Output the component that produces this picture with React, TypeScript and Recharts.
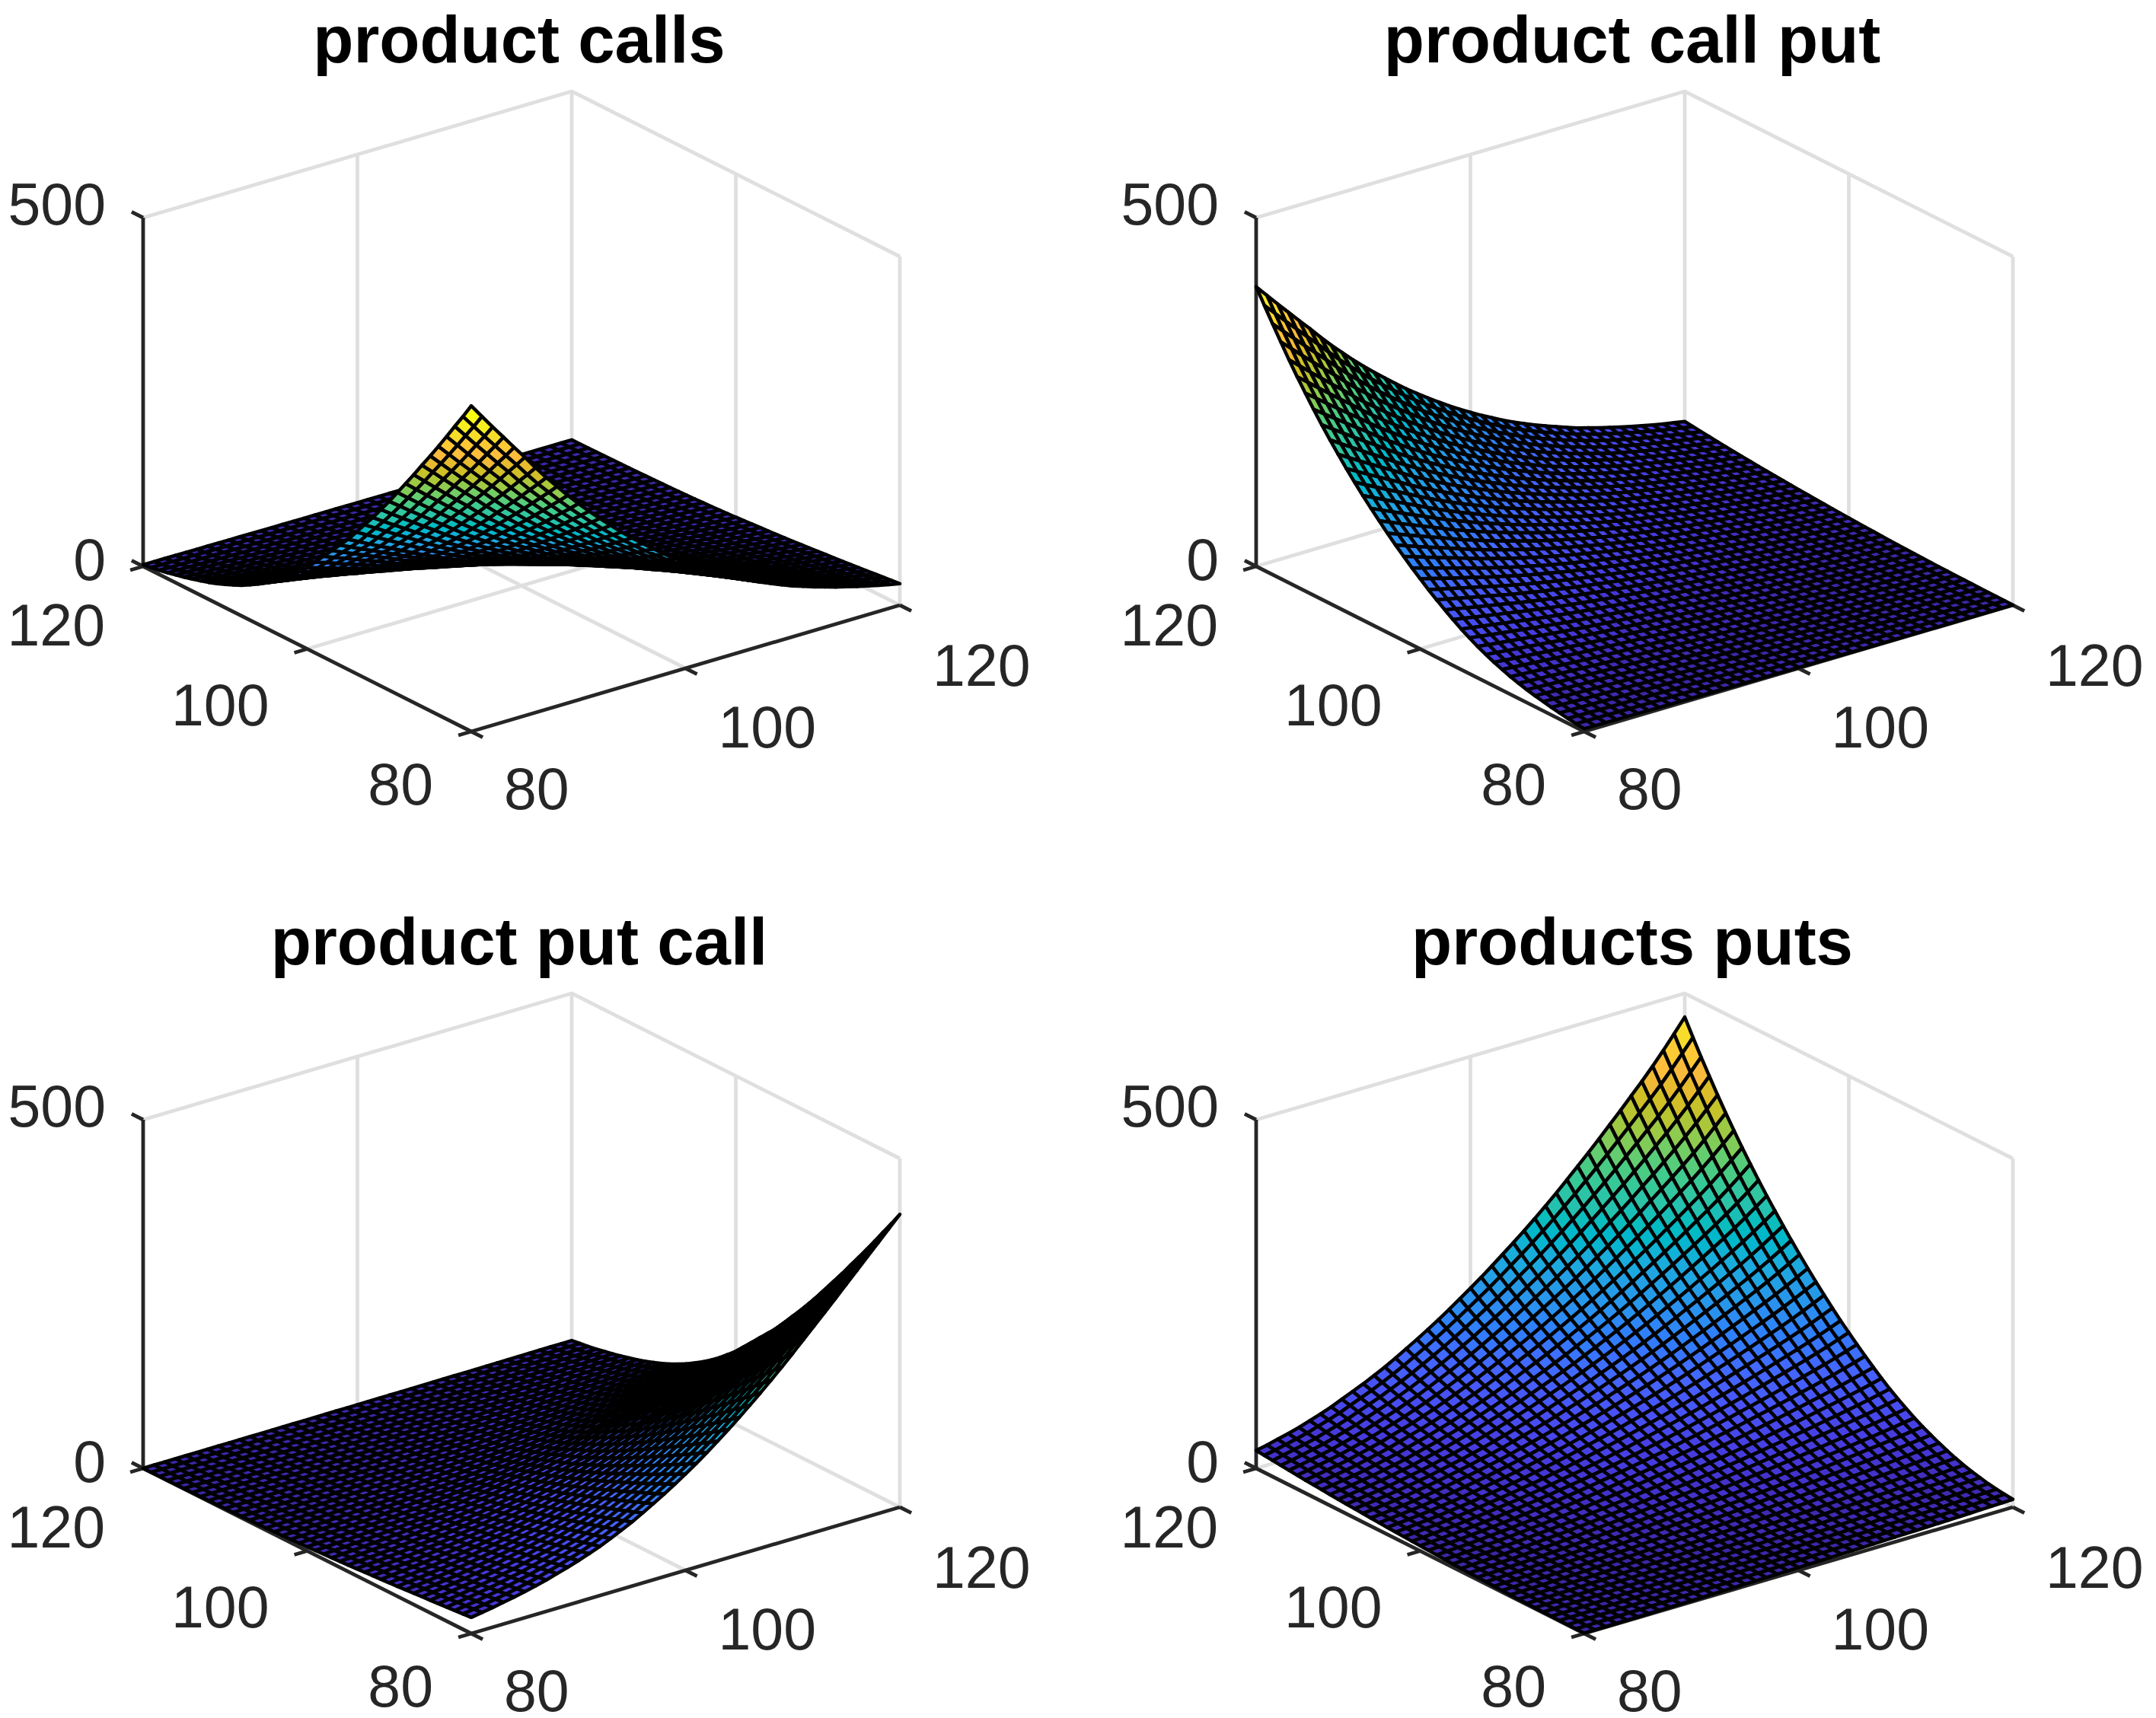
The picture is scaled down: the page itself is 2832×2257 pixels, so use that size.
import React from 'react';
import { ScatterChart, Scatter, XAxis, YAxis } from 'recharts';

// Grid of strikes shared by both horizontal axes
const strikes: number[] = Array.from({ length: 41 }, (_, k) => 80 + k);

// Profiles, one value per strike 80..120 (fraction of the panel's peak)
const callShapeX = [1.0,.958,.916,.875,.834,.794,.752,.712,.675,.638,.603,.57,.538,.507,.477,.449,.422,.396,.371,.347,.325,.303,.283,.263,.245,.228,.212,.197,.183,.169,.156,.145,.134,.124,.114,.105,.096,.088,.08,.073,.066];
const callShapeY = [1.0,.955,.912,.868,.825,.783,.742,.70,.66,.62,.58,.542,.505,.47,.435,.40,.37,.34,.31,.28,.25,.225,.20,.178,.158,.14,.123,.108,.094,.082,.071,.061,.052,.044,.037,.03,.024,.018,.013,.009,.005];
const putShapeYCallPanel = [.010,.013,.017,.022,.027,.033,.039,.046,.054,.063,.074,.085,.098,.112,.128,.145,.164,.184,.205,.227,.251,.275,.301,.327,.355,.384,.414,.445,.478,.512,.548,.585,.624,.665,.708,.752,.798,.847,.897,.948,1.0];
const putShapeXCallPanel = [.055,.061,.067,.074,.081,.089,.098,.107,.118,.129,.141,.154,.168,.184,.201,.219,.239,.260,.282,.305,.329,.354,.381,.409,.438,.468,.499,.531,.564,.598,.633,.669,.705,.741,.778,.815,.852,.889,.926,.963,1.0];
const putShapeX = [.055,.062,.070,.078,.087,.098,.109,.121,.135,.149,.163,.179,.195,.213,.232,.251,.271,.292,.314,.337,.360,.384,.409,.435,.461,.488,.516,.545,.575,.606,.638,.670,.703,.737,.771,.806,.841,.878,.917,.958,1.0];
const putShapeY = [.024,.027,.030,.034,.040,.046,.053,.062,.072,.083,.095,.108,.122,.138,.155,.173,.193,.214,.236,.259,.283,.307,.333,.360,.388,.417,.447,.478,.510,.543,.577,.612,.649,.687,.727,.768,.811,.856,.902,.950,1.0];

const panelTitles = ['product calls', 'product call put', 'product put call', 'products puts'];
const panelPeaks = [467, 401, 420, 466];
const panelShapes = [
  [callShapeX, callShapeY],
  [callShapeX, putShapeYCallPanel],
  [putShapeXCallPanel, callShapeY],
  [putShapeX, putShapeY],
];

const xyTicks = [80, 100, 120];
const zTicks = [0, 500];

const parula: number[][] = [
[.2422,.1504,.6603],[.2504,.1650,.7076],[.2578,.1818,.7511],[.2647,.1978,.7952],[.2706,.2147,.8364],[.2751,.2342,.8710],[.2783,.2559,.8991],[.2803,.2782,.9221],[.2813,.3006,.9414],[.2810,.3228,.9579],[.2795,.3447,.9717],[.2760,.3667,.9829],[.2699,.3892,.9906],[.2602,.4123,.9952],[.2440,.4358,.9988],[.2206,.4603,.9973],[.1963,.4847,.9892],[.1834,.5074,.9798],[.1786,.5289,.9682],[.1764,.5499,.9520],[.1687,.5703,.9359],[.1540,.5902,.9218],[.1460,.6091,.9079],[.1380,.6276,.8973],[.1248,.6459,.8883],[.1113,.6635,.8763],[.0952,.6798,.8598],[.0689,.6948,.8394],[.0297,.7082,.8163],[.0036,.7203,.7917],[.0067,.7312,.7660],[.0433,.7411,.7394],[.0964,.7500,.7120],[.1408,.7584,.6842],[.1717,.7670,.6554],[.1938,.7758,.6251],[.2161,.7843,.5923],[.2470,.7918,.5567],[.2906,.7973,.5188],[.3406,.8008,.4789],[.3909,.8029,.4354],[.4456,.8024,.3909],[.5044,.7993,.3480],[.5616,.7942,.3045],[.6174,.7876,.2612],[.6720,.7793,.2227],[.7242,.7698,.1910],[.7738,.7598,.1646],[.8203,.7498,.1535],[.8634,.7406,.1596],[.9035,.7330,.1774],[.9393,.7288,.2100],[.9728,.7298,.2394],[.9956,.7434,.2371],[.9970,.7659,.2199],[.9952,.7893,.2028],[.9892,.8136,.1885],[.9786,.8386,.1766],[.9676,.8639,.1643],[.9610,.8890,.1537],[.9597,.9135,.1423],[.9628,.9373,.1265],[.9691,.9606,.1064],[.9769,.9839,.0805]];

// Layout
const PANEL_W = 1370;
const PANEL_H = 1110;
const OFFSET_X = 1462;
const OFFSET_Y = 1185;
const FRONT = { x: 619, y: 961 };
const EX = { x: 563, y: -166 };
const EY = { x: -431, y: -217 };
const EZ = 458;
const GRAY = '#dfdfdf';
const DARK = '#262626';
const FONT = '"Liberation Sans", Arial, sans-serif';
const TICK_SIZE = 77;

const project = (x: number, y: number, z: number) => {
  const tx = (x - 80) / 40;
  const ty = (y - 80) / 40;
  return {
    x: FRONT.x + tx * EX.x + ty * EY.x,
    y: FRONT.y + tx * EX.y + ty * EY.y - (z / 500) * EZ,
  };
};

const faceColor = (t: number) => {
  const c = parula[Math.min(63, Math.max(0, Math.floor(t * 64)))];
  return `rgb(${Math.round(c[0] * 255)},${Math.round(c[1] * 255)},${Math.round(c[2] * 255)})`;
};

const buildQuads = (panel: number) => {
  const [fx, fy] = panelShapes[panel];
  const peak = panelPeaks[panel];
  const zAt = (i: number, j: number) => peak * fx[i] * fy[j];
  let lo = Infinity;
  let hi = -Infinity;
  for (let i = 0; i < strikes.length; i++) {
    for (let j = 0; j < strikes.length; j++) {
      const z = zAt(i, j);
      if (z < lo) lo = z;
      if (z > hi) hi = z;
    }
  }
  const quads: any[] = [];
  // far cells first, so nearer cells are painted over them
  for (let i = strikes.length - 2; i >= 0; i--) {
    for (let j = strikes.length - 2; j >= 0; j--) {
      const corners = [
        project(strikes[i], strikes[j], zAt(i, j)),
        project(strikes[i + 1], strikes[j], zAt(i + 1, j)),
        project(strikes[i + 1], strikes[j + 1], zAt(i + 1, j + 1)),
        project(strikes[i], strikes[j + 1], zAt(i, j + 1)),
      ];
      quads.push({
        x: corners[0].x,
        y: corners[0].y,
        corners,
        color: faceColor((zAt(i, j) - lo) / (hi - lo)),
      });
    }
  }
  return quads;
};

const QuadShape = (props: any) => {
  const { cx, cy, payload } = props;
  if (cx == null || cy == null) return null;
  const points = payload.corners
    .map((c: any) => `${cx + c.x - payload.x},${cy + c.y - payload.y}`)
    .join(' ');
  return <polygon points={points} fill={payload.color} stroke="#000" strokeWidth={4.5} strokeLinejoin="round" />;
};

const NoDot = () => null;

const LabelShape = (props: any) => {
  const { cx, cy, payload } = props;
  if (cx == null || cy == null) return null;
  return (
    <text
      x={cx + payload.dx}
      y={cy + payload.dy}
      textAnchor={payload.anchor}
      fontFamily={FONT}
      fontSize={payload.size}
      fontWeight={payload.weight}
      fill={payload.color}
    >
      {payload.label}
    </text>
  );
};

const grayLines = [
  [[80, 120, 500], [120, 120, 500], [120, 80, 500]],
  [[80, 120, 0], [120, 120, 0], [120, 80, 0]],
  [[100, 120, 0], [100, 120, 500]],
  [[120, 120, 0], [120, 120, 500]],
  [[120, 100, 0], [120, 100, 500]],
  [[120, 80, 0], [120, 80, 500]],
  [[100, 80, 0], [100, 120, 0]],
  [[80, 100, 0], [120, 100, 0]],
];

const darkLines = [
  [[80, 120, 0], [80, 120, 500]],
  [[80, 120, 0], [80, 80, 0]],
  [[80, 80, 0], [120, 80, 0]],
  ...xyTicks.map((t) => [[t, 80, 0], [t, 78.6, 0]]),
  ...xyTicks.map((t) => [[80, t, 0], [78.8, t, 0]]),
  ...zTicks.map((t) => [[80, 120, t], [80, 121.4, t]]),
];

const toPath = (line: number[][]) => line.map(([x, y, z]) => project(x, y, z));

const tickLabels = [
  ...xyTicks.map((t) => ({ ...project(t, 80, 0), label: String(t), dx: 43, dy: 102 + (t - 80) * 0.1, anchor: 'start', size: TICK_SIZE, weight: 400, color: DARK })),
  ...xyTicks.map((t) => ({ ...project(80, t, 0), label: String(t), dx: -50, dy: 96 + (t - 80) * 0.2, anchor: 'end', size: TICK_SIZE, weight: 400, color: DARK })),
  ...zTicks.map((t) => ({ ...project(80, 120, t), label: String(t), dx: -49, dy: t === 0 ? 18 : 9, anchor: 'end', size: TICK_SIZE, weight: 400, color: DARK })),
];

const Panel = ({ index }: { index: number }) => {
  const quads = buildQuads(index);
  const title = [{ x: 682, y: 82, label: panelTitles[index], dx: 0, dy: 0, anchor: 'middle', size: 87, weight: 700, color: '#000' }];
  const left = (index % 2) * OFFSET_X;
  const top = Math.floor(index / 2) * OFFSET_Y;
  return (
    <div style={{ position: 'absolute', left, top, width: PANEL_W, height: PANEL_H }}>
      <ScatterChart width={PANEL_W} height={PANEL_H} margin={{ top: 0, right: 0, bottom: 0, left: 0 }}>
        <XAxis type="number" dataKey="x" domain={[0, PANEL_W]} hide allowDataOverflow />
        <YAxis type="number" dataKey="y" domain={[0, PANEL_H]} reversed hide allowDataOverflow />
        {grayLines.map((l, k) => (
          <Scatter key={`g${k}`} data={toPath(l)} shape={NoDot} line={{ stroke: GRAY, strokeWidth: 4.8 }} isAnimationActive={false} />
        ))}
        {darkLines.map((l, k) => (
          <Scatter key={`d${k}`} data={toPath(l)} shape={NoDot} line={{ stroke: DARK, strokeWidth: 4.8 }} isAnimationActive={false} />
        ))}
        <Scatter data={quads} shape={QuadShape} isAnimationActive={false} />
        <Scatter data={tickLabels} shape={LabelShape} isAnimationActive={false} />
        <Scatter data={title} shape={LabelShape} isAnimationActive={false} />
      </ScatterChart>
    </div>
  );
};

export default function App() {
  return (
    <div style={{ position: 'absolute', left: 0, top: 0, width: 2832, height: 2257, background: '#fff', overflow: 'hidden' }}>
      {panelTitles.map((_, i) => (
        <Panel key={i} index={i} />
      ))}
    </div>
  );
}
